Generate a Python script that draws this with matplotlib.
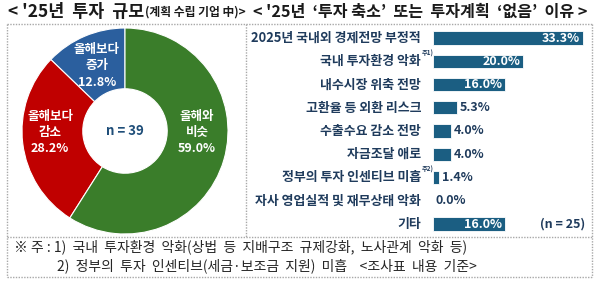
import matplotlib
matplotlib.use("Agg")
import matplotlib.pyplot as plt
from matplotlib.lines import Line2D

plt.rcParams['font.family'] = ['Noto Sans CJK KR', 'DejaVu Sans']

# ---- data ----
pie_labels = ['올해보다\n증가', '올해보다\n감소', '올해와\n비슷']
pie_values = [12.8, 28.2, 59.0]
pie_n = 39

bar_categories = ['2025년 국내외 경제전망 부정적', '국내 투자환경 악화', '내수시장 위축 전망',
                  '고환율 등 외환 리스크', '수출수요 감소 전망', '자금조달 애로',
                  '정부의 투자 인센티브 미흡', '자사 영업실적 및 재무상태 악화', '기타']
bar_values = [33.3, 20.0, 16.0, 5.3, 4.0, 4.0, 1.4, 0.0, 16.0]
bar_notes = {1: '주1)', 6: '주2)'}
bar_n = 25

title_left_main = "< '25년  투자  규모"
title_left_sub = "(계획 수립 기업 中)>"
title_right = "< '25년  ‘투자 축소’  또는  투자계획  ‘없음’  이유 >"
footnote1 = "※ 주 : 1)  국내  투자환경  악화(상법  등  지배구조  규제강화,  노사관계  악화  등)"
footnote2 = "2)  정부의  투자  인센티브(세금·보조금  지원)  미흡    <조사표  내용  기준>"

W, H = 600, 281
fig = plt.figure(figsize=(W / 100, H / 100), dpi=100)
fig.patch.set_facecolor('white')

def fx(x):
    return x / W

def fy(y):
    return 1 - y / H

# ---- frame lines ----
gray = '#a8a8a8'
def line(x0, y0, x1, y1):
    fig.add_artist(Line2D([fx(x0), fx(x1)], [fy(y0), fy(y1)], color=gray,
                          lw=1.0, ls=(0, (1, 1)), transform=fig.transFigure))

line(7, 24, 592, 24)
line(7, 277, 592, 277)
line(7, 24, 7, 277)
line(592, 24, 592, 277)
line(246, 24, 246, 237)
line(7, 237, 592, 237)

# ---- titles ----
title_color = '#1a1a1a'
t_main = fig.text(fx(8), fy(12), title_left_main, fontsize=12.5, fontweight='bold',
                  color=title_color, ha='left', va='center')
renderer = fig.canvas.get_renderer()
bb = t_main.get_window_extent(renderer)
fig.text(bb.x1 / W + fx(1), fy(12.5), title_left_sub, fontsize=8.5, fontweight='bold',
         color=title_color, ha='left', va='center')
fig.text(fx(420), fy(12), title_right, fontsize=11.6, fontweight='bold',
         color=title_color, ha='center', va='center')

# ---- donut ----
cx, cy, r = 125, 131, 103
axp = fig.add_axes([fx(cx - r), fy(cy + r), 2 * r / W, 2 * r / H])
colors = ['#2b5f9e', '#c00000', '#3a7d2a']
axp.pie(pie_values, colors=colors, startangle=90, counterclock=True,
        wedgeprops=dict(width=0.59, edgecolor='white', linewidth=0.8))
axp.set_xlim(-1, 1)
axp.set_ylim(-1, 1)
axp.set_aspect('auto')
axp.axis('off')

label_pos = [(97, 66), (50, 133), (197, 133)]
for (lx, ly), lab, v in zip(label_pos, pie_labels, pie_values):
    fig.text(fx(lx), fy(ly), f"{lab}\n{v:.1f}%", fontsize=9, fontweight='bold',
             color='white', ha='center', va='center', linespacing=1.3)
fig.text(fx(cx), fy(cy), f"n = {pie_n}", fontsize=9.5, fontweight='bold',
         color='#1f4e79', ha='center', va='center')

# ---- bars ----
x0_px, px_per = 433, 4.5
xmax = 36
row0, step = 38, 23.25
n = len(bar_values)
top_px = row0 - step / 2
bot_px = row0 + step * (n - 1) + step / 2
axb = fig.add_axes([fx(x0_px), fy(bot_px), xmax * px_per / W, (bot_px - top_px) / H])
bar_color = '#1b5e82'
ypos = list(range(n))
axb.barh(ypos, bar_values, height=0.56, color=bar_color, edgecolor='white', linewidth=0.6)
axb.set_xlim(0, xmax)
axb.set_ylim(n - 0.5, -0.5)
axb.axis('off')

label_color = '#1f3b5c'
for i, (cat, v) in enumerate(zip(bar_categories, bar_values)):
    axb.annotate(cat, xy=(0, i), xycoords=('axes fraction', 'data'),
                 xytext=(-12, 0), textcoords='offset pixels', ha='right', va='center',
                 fontsize=9.3, fontweight='bold', color=label_color)
    if i in bar_notes:
        axb.annotate(bar_notes[i], xy=(0, i), xycoords=('axes fraction', 'data'),
                     xytext=(-11, 8), textcoords='offset pixels', ha='left', va='center',
                     fontsize=4.5, fontweight='bold', color=label_color)
    if v >= 10:
        axb.annotate(f"{v:.1f}%", xy=(v, i), xytext=(-3, 0), textcoords='offset pixels',
                     ha='right', va='center', fontsize=9, fontweight='bold', color='white')
    else:
        axb.annotate(f"{v:.1f}%", xy=(v, i), xytext=(3, 0), textcoords='offset pixels',
                     ha='left', va='center', fontsize=9, fontweight='bold', color=label_color)

axb.annotate(f"(n = {bar_n})", xy=(1, n - 1), xycoords=('axes fraction', 'data'),
             xytext=(-10, 0), textcoords='offset pixels', ha='right', va='center',
             fontsize=9, fontweight='bold', color=label_color)

# ---- footnotes ----
fig.text(fx(14), fy(247), footnote1, fontsize=10, color='#262626', ha='left', va='center')
fig.text(fx(57), fy(266), footnote2, fontsize=10, color='#262626', ha='left', va='center')

fig.savefig('out.png', dpi=100, facecolor='white')
